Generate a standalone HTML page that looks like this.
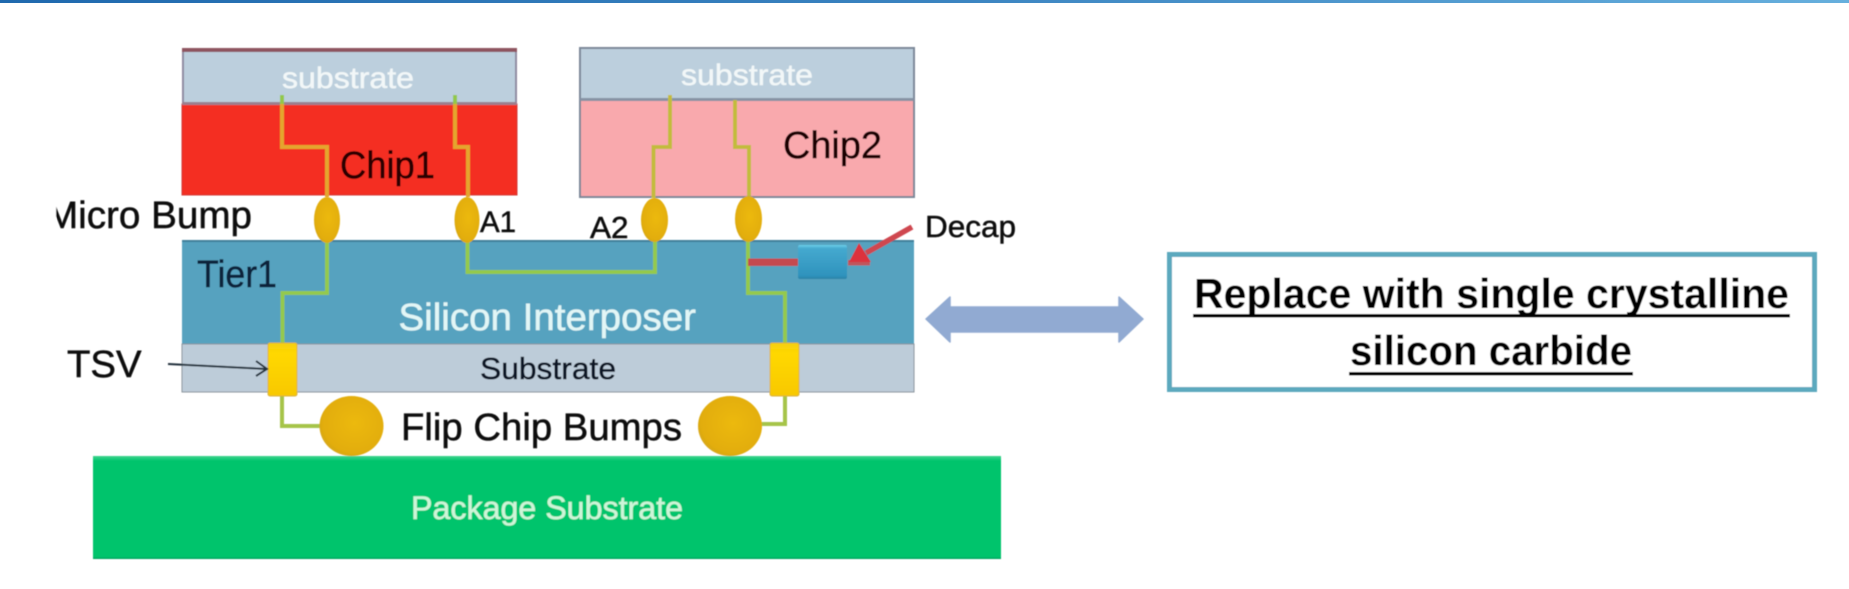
<!DOCTYPE html>
<html>
<head>
<meta charset="utf-8">
<style>
html,body{margin:0;padding:0;background:#fff;width:1849px;height:589px;overflow:hidden}
svg{display:block}
text{font-family:"Liberation Sans",sans-serif;paint-order:stroke}
</style>
</head>
<body>
<svg width="1849" height="589" viewBox="0 0 1849 589" xmlns="http://www.w3.org/2000/svg">
<defs>
<linearGradient id="top" x1="0" x2="1" y1="0" y2="0"><stop offset="0" stop-color="#1f69ae"/><stop offset=".5" stop-color="#3a83c0"/><stop offset="1" stop-color="#66afdd"/></linearGradient>
<radialGradient id="bump" cx=".55" cy=".45" r=".62"><stop offset="0" stop-color="#ecb908"/><stop offset=".8" stop-color="#e2ad08"/><stop offset="1" stop-color="#cfa226"/></radialGradient>
<linearGradient id="tsv" x1="0" x2="0" y1="0" y2="1"><stop offset="0" stop-color="#f5cf10"/><stop offset=".2" stop-color="#ffd800"/><stop offset="1" stop-color="#f8c800"/></linearGradient>
<linearGradient id="dec" x1="0" x2="0" y1="0" y2="1"><stop offset="0" stop-color="#6fd0ea"/><stop offset=".1" stop-color="#45a9cf"/><stop offset=".9" stop-color="#2f93bd"/><stop offset="1" stop-color="#2b82a6"/></linearGradient>
<linearGradient id="pk" x1="0" x2="0" y1="0" y2="1"><stop offset="0" stop-color="#3fd48f"/><stop offset=".05" stop-color="#00c46c"/><stop offset=".98" stop-color="#00c46c"/><stop offset="1" stop-color="#0a9c5c"/></linearGradient>
<filter id="soft" x="-5%" y="-5%" width="110%" height="110%"><feGaussianBlur stdDeviation="0.6"/></filter>
</defs>
<rect x="0" y="0" width="1849" height="3" fill="url(#top)"/>
<g filter="url(#soft)">
<!-- Package -->
<rect x="93" y="456" width="908" height="103" fill="url(#pk)"/>
<!-- Chip 1 -->
<rect x="182" y="104" width="335" height="91" fill="#f42e24" stroke="#d23a34" stroke-width="1"/>
<rect x="182" y="48" width="335" height="56" fill="#bccfdd"/>
<rect x="182" y="48" width="2" height="56" fill="#8e8aa0"/>
<rect x="515" y="48" width="2" height="56" fill="#8e8aa0"/>
<rect x="182" y="48" width="335" height="4" fill="#8e5560"/>
<rect x="182" y="102" width="335" height="3" fill="#9c7f8e"/>
<!-- Chip 2 -->
<rect x="580" y="48" width="334" height="149" fill="#f9a9ad" stroke="#7c8798" stroke-width="2"/>
<rect x="581" y="49" width="332" height="50" fill="#bccfdd"/>
<rect x="580" y="98" width="334" height="3" fill="#8793a4"/>
<!-- Interposer -->
<rect x="182" y="240" width="732" height="104" fill="#57a2bf"/>
<rect x="182" y="240" width="732" height="2" fill="#3f7f9a"/>
<rect x="182" y="344" width="732" height="48" fill="#bdccd9" stroke="#8b949c" stroke-width="1"/>
<!-- Wires -->
<g fill="none" stroke-width="4" stroke-linejoin="miter">
<path d="M282 95V104" stroke="#93c84a"/>
<path d="M282 104V147H327V197" stroke="#e4a52e"/>
<path d="M455 95V104" stroke="#93c84a"/>
<path d="M455 104V147H468V197" stroke="#e4a52e"/>
<path d="M670 95V147H653.500V198" stroke="#c3bb3c"/>
<path d="M735 100V147H749V196" stroke="#c3bb3c"/>
<path d="M327 240V293H282.500V344" stroke="#94c94e"/>
<path d="M467.500 240V272H655V240" stroke="#94c94e"/>
<path d="M748 240V293H785V344" stroke="#94c94e"/>
<path d="M282 396V426H322" stroke="#a6c44a"/>
<path d="M785 396V424H760" stroke="#a6c44a"/>
</g>
<!-- Micro bumps -->
<ellipse cx="327" cy="220" rx="13" ry="23" fill="url(#bump)"/>
<ellipse cx="467" cy="220" rx="12.500" ry="23" fill="url(#bump)"/>
<ellipse cx="654.500" cy="220" rx="13.500" ry="22" fill="url(#bump)"/>
<ellipse cx="748.500" cy="219" rx="13.500" ry="23" fill="url(#bump)"/>
<!-- Flip bumps -->
<ellipse cx="351.500" cy="426" rx="32" ry="30" fill="url(#bump)"/>
<ellipse cx="730" cy="426" rx="32" ry="30" fill="url(#bump)"/>
<!-- TSV -->
<rect x="268" y="343" width="29" height="53" rx="2" fill="url(#tsv)" stroke="#d9b13a" stroke-width="1"/>
<rect x="770" y="343" width="29" height="53" rx="2" fill="url(#tsv)" stroke="#d9b13a" stroke-width="1"/>
<!-- Decap -->
<rect x="748" y="258.500" width="50" height="7.500" fill="#c44a50"/>
<rect x="798" y="245" width="49" height="34" rx="2" fill="url(#dec)"/>
<rect x="848" y="260" width="22" height="5.500" fill="#c0555c"/>
<path d="M912 227L866 253" stroke="#cf4650" stroke-width="5.500" fill="none"/>
<path d="M849 262L859 243L871 262Z" fill="#dc323c"/>
<!-- TSV arrow -->
<path d="M168 364L266 369" stroke="#23303c" stroke-width="2" fill="none"/>
<path d="M256 361L267 369L256 376" stroke="#23303c" stroke-width="2" fill="none"/>
<!-- Labels -->
<g stroke-width="0.5">
<text x="282" y="88" font-size="30" fill="#f2f7f8" stroke="#f2f7f8" textLength="132" lengthAdjust="spacingAndGlyphs">substrate</text>
<text x="681" y="85" font-size="30" fill="#f2f7f8" stroke="#f2f7f8" textLength="132" lengthAdjust="spacingAndGlyphs">substrate</text>
<text x="340" y="178" font-size="38" fill="#2a0505" stroke="#2a0505" textLength="95" lengthAdjust="spacingAndGlyphs">Chip1</text>
<text x="783" y="158" font-size="38" fill="#1c0606" stroke="#1c0606" textLength="99" lengthAdjust="spacingAndGlyphs">Chip2</text>
<text x="46" y="228" font-size="38" fill="#0c0c0c" stroke="#0c0c0c" textLength="206" lengthAdjust="spacingAndGlyphs">Micro Bump</text>
<text x="480" y="232" font-size="30" fill="#111" stroke="#111" textLength="36" lengthAdjust="spacingAndGlyphs">A1</text>
<text x="590" y="238" font-size="31" fill="#111" stroke="#111" textLength="38.500" lengthAdjust="spacingAndGlyphs">A2</text>
<text x="925" y="237" font-size="31" fill="#0c0c0c" stroke="#0c0c0c" textLength="91" lengthAdjust="spacingAndGlyphs">Decap</text>
<text x="197" y="287" font-size="38" fill="#08233a" stroke="#08233a" textLength="80" lengthAdjust="spacingAndGlyphs">Tier1</text>
<text x="398.500" y="330" font-size="38" fill="#e2f6f6" stroke="#e2f6f6" textLength="297.500" lengthAdjust="spacingAndGlyphs">Silicon Interposer</text>
<text x="480" y="379" font-size="31" fill="#0b1826" stroke="#0b1826" textLength="136" lengthAdjust="spacingAndGlyphs">Substrate</text>
<text x="67" y="377" font-size="38" fill="#0c0c0c" stroke="#0c0c0c" textLength="74.500" lengthAdjust="spacingAndGlyphs">TSV</text>
<text x="401" y="440" font-size="38" fill="#0c0c0c" stroke="#0c0c0c" textLength="281" lengthAdjust="spacingAndGlyphs">Flip Chip Bumps</text>
<text x="411" y="519" font-size="32" fill="#cdf5d8" stroke="#cdf5d8" textLength="272" lengthAdjust="spacingAndGlyphs">Package Substrate</text>
</g>
<rect x="40" y="198" width="16" height="40" fill="#fff"/>
<!-- Double arrow -->
<path d="M926 319L950 297V307H1119V297L1143 319L1119 342V332H950V342Z" fill="#91aad2" stroke="#91aad2" stroke-width="1.500" stroke-linejoin="round"/>
<!-- Box -->
<rect x="1169.500" y="254.500" width="645" height="135" fill="#fff" stroke="#5ba9be" stroke-width="5"/>
<text x="1194" y="308" font-size="42" font-weight="bold" fill="#000" textLength="595" lengthAdjust="spacingAndGlyphs">Replace with single crystalline</text>
<rect x="1193" y="314" width="597" height="3.500" fill="#000"/>
<text x="1350" y="365" font-size="42" font-weight="bold" fill="#000" textLength="282" lengthAdjust="spacingAndGlyphs">silicon carbide</text>
<rect x="1349" y="372" width="284" height="3.500" fill="#000"/>
</g>
</svg>
</body>
</html>
